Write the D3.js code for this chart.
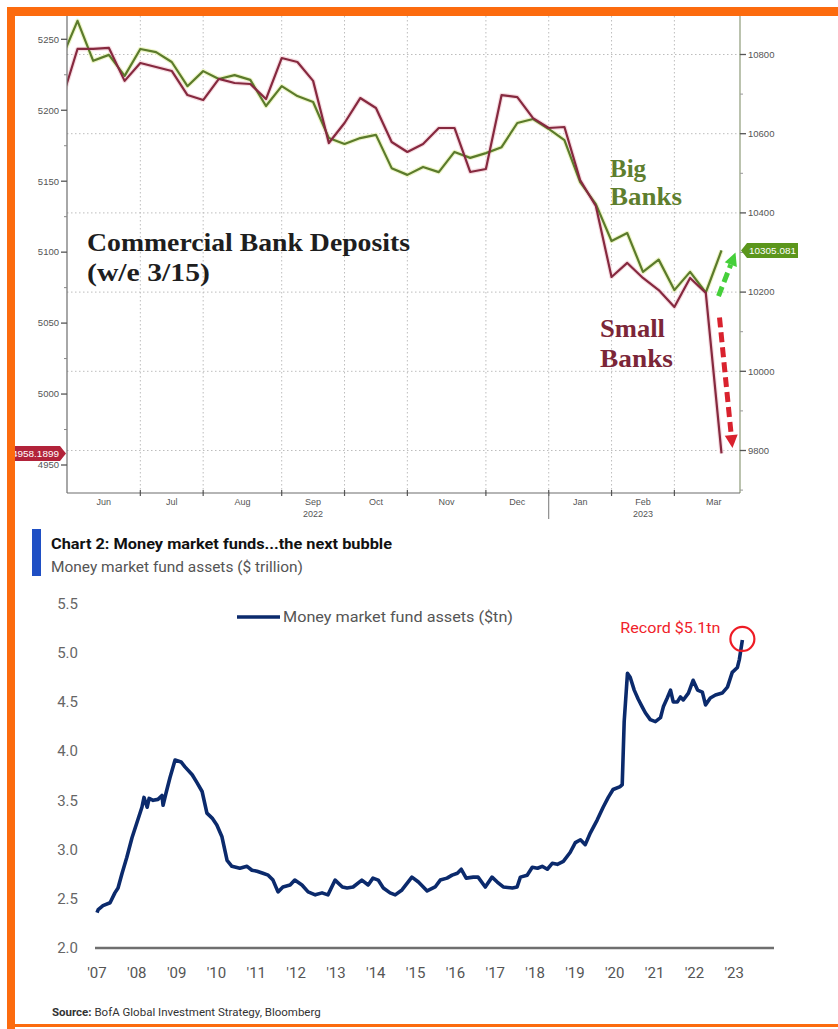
<!DOCTYPE html>
<html>
<head>
<meta charset="utf-8">
<script src="https://cdn.jsdelivr.net/npm/d3@7"></script>
<style>
  body { margin: 0; background: #fff; }
  svg { display: block; }
</style>
</head>
<body>
<svg id="chart" width="838" height="1029"></svg>
<script>
// ---------- Panel 1: weekly commercial bank deposits ($bn), week ending Wednesday ----------
const weekDates = [
  "2022-05-25","2022-06-01","2022-06-08","2022-06-15","2022-06-22","2022-06-29",
  "2022-07-06","2022-07-13","2022-07-20","2022-07-27",
  "2022-08-03","2022-08-10","2022-08-17","2022-08-24","2022-08-31",
  "2022-09-07","2022-09-14","2022-09-21","2022-09-28",
  "2022-10-05","2022-10-12","2022-10-19","2022-10-26",
  "2022-11-02","2022-11-09","2022-11-16","2022-11-23","2022-11-30",
  "2022-12-07","2022-12-14","2022-12-21","2022-12-28",
  "2023-01-04","2023-01-11","2023-01-18","2023-01-25",
  "2023-02-01","2023-02-08","2023-02-15","2023-02-22",
  "2023-03-01","2023-03-08","2023-03-15"
];
// Small banks, left axis
const smallBanks = [
  5207.2, 5243.2, 5243.2, 5243.9, 5220.7, 5233.3, 5230.5, 5227.7, 5210.7, 5207.2,
  5222.1, 5219.2, 5218.5, 5207.9, 5236.8, 5234.0, 5220.7, 5176.9, 5191.0, 5208.6,
  5201.6, 5177.6, 5170.6, 5176.2, 5187.5, 5187.5, 5156.5, 5158.6, 5210.7, 5209.3,
  5194.5, 5187.5, 5188.2, 5150.8, 5132.5, 5082.5, 5092.4, 5081.8, 5073.3, 5061.3,
  5081.8, 5071.3, 4958.1899
];
// Big banks, right axis
const bigBanks = [
  10791, 10885, 10784, 10799, 10746, 10814, 10806, 10781, 10720, 10758,
  10738, 10748, 10736, 10670, 10720, 10695, 10680, 10589, 10574, 10589,
  10597, 10513, 10496, 10516, 10503, 10554, 10539, 10551, 10566, 10627,
  10637, 10612, 10584, 10478, 10422, 10329, 10349, 10251, 10282, 10205,
  10251, 10199, 10305.081
];
const leftTicks = [4950, 5000, 5050, 5100, 5150, 5200, 5250];
const leftMinorTicks = [4975, 5025, 5075, 5125, 5175, 5225];
const rightTicks = [9800, 10000, 10200, 10400, 10600, 10800];
const rightMinorTicks = [9700, 9900, 10100, 10300, 10500, 10700];

// ---------- Panel 2: money market fund assets ($ trillion) ----------
const mmfDates = [
  "2007-01-01","2007-01-12","2007-02-25","2007-05-01","2007-06-14","2007-07-13","2007-08-19",
  "2007-10-01","2007-11-18","2008-01-01","2008-02-17","2008-03-07","2008-04-05","2008-04-23",
  "2008-05-30","2008-07-13","2008-08-19","2008-08-29","2008-09-24","2008-10-31","2008-12-17",
  "2009-02-10","2009-03-18","2009-05-23","2009-07-06","2009-08-22","2009-10-05","2009-11-22",
  "2010-01-04","2010-02-20","2010-04-08","2010-05-22","2010-08-03","2010-10-08","2010-11-22",
  "2011-01-08","2011-03-03","2011-04-20","2011-06-03","2011-07-19","2011-09-02","2011-11-07",
  "2011-12-20","2012-02-24","2012-04-20","2012-06-25","2012-08-26","2012-10-19","2012-12-24",
  "2013-02-28","2013-04-13","2013-06-07","2013-08-26","2013-10-23","2013-12-06","2014-01-23",
  "2014-03-11","2014-05-12","2014-06-28","2014-08-29","2014-11-28","2015-01-27","2015-04-17",
  "2015-06-29","2015-08-15","2015-10-16","2015-12-02","2016-01-19","2016-02-24","2016-04-09",
  "2016-06-13","2016-07-27","2016-10-01","2016-12-02","2017-01-19","2017-03-15","2017-06-07",
  "2017-07-20","2017-08-19","2017-10-20","2017-12-06","2018-01-23","2018-03-07","2018-04-23",
  "2018-06-07","2018-07-24","2018-09-17","2018-11-18","2019-01-05","2019-02-21","2019-04-06",
  "2019-05-23","2019-07-24","2019-09-17","2019-11-03","2019-12-17","2020-02-21","2020-03-10",
  "2020-03-28","2020-04-27","2020-05-22","2020-06-28","2020-08-03","2020-09-09","2020-10-08",
  "2020-11-22","2021-01-08","2021-02-24","2021-03-22","2021-04-27","2021-05-27","2021-06-21",
  "2021-07-28","2021-08-26","2021-09-21","2021-11-07","2021-12-20","2022-01-30","2022-03-15",
  "2022-04-13","2022-05-27","2022-07-13","2022-09-13","2022-10-31","2022-12-14","2023-01-30",
  "2023-02-17","2023-03-17"
];
const mmfAssets = [
  2.36, 2.39, 2.43, 2.46, 2.56, 2.61, 2.76,
  2.92, 3.12, 3.27, 3.43, 3.53, 3.43, 3.52,
  3.50, 3.51, 3.55, 3.45, 3.57, 3.73, 3.91,
  3.89, 3.84, 3.76, 3.68, 3.59, 3.37, 3.32,
  3.25, 3.13, 2.89, 2.83, 2.81, 2.83, 2.79,
  2.78, 2.76, 2.74, 2.69, 2.57, 2.62, 2.64,
  2.69, 2.64, 2.57, 2.54, 2.56, 2.54, 2.69,
  2.62, 2.61, 2.62, 2.69, 2.64, 2.71, 2.69,
  2.61, 2.56, 2.54, 2.59, 2.72, 2.67, 2.58,
  2.62, 2.69, 2.71, 2.74, 2.76, 2.80, 2.71,
  2.72, 2.72, 2.62, 2.72, 2.67, 2.62, 2.61,
  2.62, 2.72, 2.74, 2.82, 2.81, 2.83, 2.80,
  2.86, 2.85, 2.88, 2.97, 3.07, 3.10, 3.05,
  3.17, 3.30, 3.43, 3.53, 3.61, 3.64, 3.66,
  4.30, 4.79, 4.75, 4.62, 4.53, 4.45, 4.39,
  4.32, 4.30, 4.34, 4.45, 4.54, 4.62, 4.50,
  4.50, 4.55, 4.52, 4.59, 4.72, 4.62, 4.60,
  4.47, 4.54, 4.57, 4.59, 4.65, 4.80, 4.85,
  4.93, 5.13
];
const mmfTicks = [2.0, 2.5, 3.0, 3.5, 4.0, 4.5, 5.0, 5.5];
const mmfYears = d3.range(2007, 2024);

// ---------- shared ----------
const svg = d3.select("#chart");
const ORANGE = "#fc6b0e";
const parse = d3.timeParse("%Y-%m-%d");

// =================== Panel 1 ===================
const p1 = { left: 67, right: 740, top: 16, bottom: 493 };
const x1 = d3.scalePoint().domain(weekDates).range([61.8, 721.5]);
const yL = d3.scaleLinear().domain([4950, 5250]).range([465, 39.3]);
const yR = d3.scaleLinear().domain([9800, 10800]).range([450.5, 54.5]);
const weeks = weekDates.map(parse);
const step = x1.step();

const g1 = svg.append("g");
g1.append("defs").append("clipPath").attr("id", "plot1")
  .append("rect").attr("x", p1.left).attr("y", p1.top)
  .attr("width", p1.right - p1.left).attr("height", p1.bottom - p1.top);

// Months covered by the weekly series; gridlines sit on the closing week of the prior month
const months = d3.timeMonth.range(d3.timeMonth.floor(weeks[1]),
  d3.timeMonth.offset(d3.timeMonth.floor(weeks[weeks.length - 1]), 1));
const bounds = months.map(m => {
  const i = weeks.findIndex(w => w >= m);
  return x1(weekDates[i]) - step;
});
const monthEnds = months.map((m, i) => i < months.length - 1 ? bounds[i + 1]
  : bounds[i] + d3.timeWednesday.range(m, d3.timeMonth.offset(m, 1)).length * step);
const monthCenters = months.map((m, i) => (Math.max(bounds[i], p1.left) + monthEnds[i]) / 2);

// gridlines
const grid = g1.append("g").attr("stroke", "#bdbdbd").attr("stroke-width", 1)
  .attr("stroke-dasharray", "1.5,2.5");
grid.selectAll("line.h").data(rightTicks).join("line")
  .attr("x1", p1.left).attr("x2", p1.right)
  .attr("y1", d => yR(d)).attr("y2", d => yR(d));
grid.selectAll("line.v").data(bounds.filter(b => b > p1.left)).join("line")
  .attr("x1", d => d).attr("x2", d => d)
  .attr("y1", p1.top).attr("y2", p1.bottom);

// series
const lineSmall = d3.line().x((d, i) => x1(weekDates[i])).y(d => yL(d));
const lineBig = d3.line().x((d, i) => x1(weekDates[i])).y(d => yR(d));
const series = g1.append("g").attr("clip-path", "url(#plot1)")
  .attr("fill", "none").attr("stroke-linejoin", "round");
series.append("path").datum(bigBanks).attr("d", lineBig)
  .attr("stroke", "#eef5c8").attr("stroke-width", 4.5);
series.append("path").datum(smallBanks).attr("d", lineSmall)
  .attr("stroke", "#f6dde2").attr("stroke-width", 4.5);
series.append("path").datum(bigBanks).attr("d", lineBig)
  .attr("stroke", "#5b7b2b").attr("stroke-width", 2.2);
series.append("path").datum(smallBanks).attr("d", lineSmall)
  .attr("stroke", "#86293f").attr("stroke-width", 2.2);

// axes frame
g1.append("line").attr("x1", p1.left).attr("x2", p1.left)
  .attr("y1", p1.top).attr("y2", p1.bottom).attr("stroke", "#6d6d6d").attr("stroke-width", 1.2);
g1.append("line").attr("x1", p1.right).attr("x2", p1.right)
  .attr("y1", p1.top).attr("y2", p1.bottom).attr("stroke", "#8d9a78").attr("stroke-width", 1.2);
g1.append("line").attr("x1", p1.left).attr("x2", p1.right)
  .attr("y1", p1.bottom).attr("y2", p1.bottom).attr("stroke", "#6d6d6d").attr("stroke-width", 1.2);

const axisFont = "'Liberation Sans', Arial, sans-serif";
// left axis
g1.selectAll("line.lt").data(leftTicks).join("line")
  .attr("x1", p1.left - 6).attr("x2", p1.left).attr("y1", d => yL(d)).attr("y2", d => yL(d))
  .attr("stroke", "#555").attr("stroke-width", 1.3);
g1.selectAll("line.lm").data(leftMinorTicks).join("line")
  .attr("x1", p1.left - 3).attr("x2", p1.left).attr("y1", d => yL(d)).attr("y2", d => yL(d))
  .attr("stroke", "#888");
g1.selectAll("text.lt").data(leftTicks).join("text")
  .attr("x", p1.left - 8).attr("y", d => yL(d)).attr("dy", "0.35em")
  .attr("text-anchor", "end").attr("font-family", axisFont).attr("font-size", 9.5)
  .attr("fill", "#555").text(d => d);
// right axis
g1.selectAll("line.rt").data(rightTicks).join("line")
  .attr("x1", p1.right).attr("x2", p1.right + 6).attr("y1", d => yR(d)).attr("y2", d => yR(d))
  .attr("stroke", "#555").attr("stroke-width", 1.3);
g1.selectAll("line.rm").data(rightMinorTicks.filter(d => yR(d) < p1.bottom)).join("line")
  .attr("x1", p1.right).attr("x2", p1.right + 3).attr("y1", d => yR(d)).attr("y2", d => yR(d))
  .attr("stroke", "#999");
g1.selectAll("text.rt").data(rightTicks).join("text")
  .attr("x", p1.right + 8).attr("y", d => yR(d)).attr("dy", "0.35em")
  .attr("font-family", axisFont).attr("font-size", 9.5).attr("fill", "#555").text(d => d);

// bottom axis: month ticks, labels and years
g1.selectAll("line.mt").data(bounds.filter(b => b > p1.left)).join("line")
  .attr("x1", d => d).attr("x2", d => d).attr("y1", p1.bottom - 3).attr("y2", p1.bottom + 3)
  .attr("stroke", "#555").attr("stroke-width", 1.2);
const fmtMonth = d3.timeFormat("%b");
g1.selectAll("text.mo").data(months).join("text")
  .attr("x", (d, i) => monthCenters[i]).attr("y", p1.bottom + 12)
  .attr("text-anchor", "middle").attr("font-family", axisFont).attr("font-size", 9)
  .attr("fill", "#555").text(d => fmtMonth(d));
const byYear = d3.groups(months.map((m, i) => ({ m, c: monthCenters[i] })), d => d.m.getFullYear());
g1.selectAll("text.yr").data(byYear).join("text")
  .attr("x", d => d[1][Math.floor((d[1].length - 1) / 2)].c).attr("y", p1.bottom + 24)
  .attr("text-anchor", "middle").attr("font-family", axisFont).attr("font-size", 9)
  .attr("fill", "#555").text(d => d[0]);
const janIdx = months.findIndex(m => m.getMonth() === 0);
g1.append("line").attr("x1", bounds[janIdx]).attr("x2", bounds[janIdx])
  .attr("y1", p1.bottom).attr("y2", p1.bottom + 26).attr("stroke", "#777").attr("stroke-width", 1);

// annotations
const serif = "'Liberation Serif', 'Times New Roman', serif";
g1.append("text").attr("x", 87).attr("y", 251).attr("font-family", serif)
  .attr("font-weight", "bold").attr("font-size", 25).attr("fill", "#1e1e1e")
  .attr("textLength", 323).attr("lengthAdjust", "spacingAndGlyphs")
  .text("Commercial Bank Deposits");
g1.append("text").attr("x", 87).attr("y", 281).attr("font-family", serif)
  .attr("font-weight", "bold").attr("font-size", 25).attr("fill", "#1e1e1e")
  .attr("textLength", 123).attr("lengthAdjust", "spacingAndGlyphs")
  .text("(w/e 3/15)");

const bigLbl = g1.append("text").attr("font-family", serif).attr("font-weight", "bold")
  .attr("font-size", 25).attr("fill", "#5e7e2e");
bigLbl.append("tspan").attr("x", 610).attr("y", 177).text("Big");
bigLbl.append("tspan").attr("x", 610).attr("y", 205)
  .attr("textLength", 72).attr("lengthAdjust", "spacingAndGlyphs").text("Banks");
const smallLbl = g1.append("text").attr("font-family", serif).attr("font-weight", "bold")
  .attr("font-size", 25).attr("fill", "#7b2638");
smallLbl.append("tspan").attr("x", 600).attr("y", 337)
  .attr("textLength", 65).attr("lengthAdjust", "spacingAndGlyphs").text("Small");
smallLbl.append("tspan").attr("x", 600).attr("y", 367)
  .attr("textLength", 73).attr("lengthAdjust", "spacingAndGlyphs").text("Banks");

// dashed trend arrows
function dashedArrow(x0, y0, x1p, y1p, color) {
  const ang = Math.atan2(y1p - y0, x1p - x0);
  const head = 13, half = 6.5;
  const bx = x1p - head * Math.cos(ang), by = y1p - head * Math.sin(ang);
  g1.append("line").attr("x1", x0).attr("y1", y0).attr("x2", bx).attr("y2", by)
    .attr("stroke", color).attr("stroke-width", 5).attr("stroke-dasharray", "10,5");
  const px = -Math.sin(ang), py = Math.cos(ang);
  g1.append("path").attr("fill", color)
    .attr("d", `M${x1p},${y1p}L${bx + px * half},${by + py * half}L${bx - px * half},${by - py * half}Z`);
}
const xLast = x1(weekDates[weekDates.length - 1]);
dashedArrow(xLast - 3, yR(10190), xLast + 14, yR(10300), "#45cf3a");
dashedArrow(xLast - 2, yL(5054), xLast + 11, yL(4962), "#d9222e");

// last-value tags
const lastBig = bigBanks[bigBanks.length - 1];
const lastSmall = smallBanks[smallBanks.length - 1];
const tagR = g1.append("g").attr("transform", `translate(${p1.right + 1},${yR(lastBig)})`);
tagR.append("path").attr("fill", "#5b961c")
  .attr("d", "M0,0L6,-7.5H57V7.5H6Z");
tagR.append("text").attr("x", 8).attr("dy", "0.35em").attr("font-family", axisFont)
  .attr("font-size", 9.5).attr("fill", "#fff").attr("textLength", 47)
  .attr("lengthAdjust", "spacingAndGlyphs").text(d3.format(".3f")(lastBig));
const tagL = g1.append("g").attr("transform", `translate(${p1.left - 1},${yL(lastSmall)})`);
tagL.append("path").attr("fill", "#b2233a")
  .attr("d", "M0,0L-6,-7.5H-54V7.5H-6Z");
tagL.append("text").attr("x", -7).attr("dy", "0.35em").attr("text-anchor", "end")
  .attr("font-family", axisFont).attr("font-size", 9.5).attr("fill", "#fff")
  .attr("textLength", 47).attr("lengthAdjust", "spacingAndGlyphs")
  .text(d3.format(".4f")(lastSmall));

// =================== Panel 2 ===================
const sans = "Roboto, 'Noto Sans', sans-serif";
const g2 = svg.append("g");
const mDates = mmfDates.map(parse);
const x2 = d3.scaleTime().domain([new Date(2007, 0, 1), new Date(2024, 0, 1)]).range([97, 774]);
const y2 = d3.scaleLinear().domain([2.0, 5.5]).range([948, 603.5]);

g2.append("rect").attr("x", 32).attr("y", 529).attr("width", 9).attr("height", 47).attr("fill", "#1f4fc4");
g2.append("text").attr("x", 51).attr("y", 549).attr("font-family", sans).attr("font-weight", "bold")
  .attr("font-size", 15).attr("fill", "#111").attr("textLength", 341)
  .attr("lengthAdjust", "spacingAndGlyphs").text("Chart 2: Money market funds...the next bubble");
g2.append("text").attr("x", 51).attr("y", 572).attr("font-family", sans)
  .attr("font-size", 15).attr("fill", "#555").attr("textLength", 252)
  .attr("lengthAdjust", "spacingAndGlyphs").text("Money market fund assets ($ trillion)");

// y labels
g2.selectAll("text.yt").data(mmfTicks).join("text")
  .attr("x", 78).attr("y", d => y2(d)).attr("dy", "0.35em").attr("text-anchor", "end")
  .attr("font-family", sans).attr("font-size", 15).attr("fill", "#666")
  .text(d => d3.format(".1f")(d));
// baseline
g2.append("line").attr("x1", 95).attr("x2", 774).attr("y1", y2(2.0)).attr("y2", y2(2.0))
  .attr("stroke", "#6f6f6f").attr("stroke-width", 2.5);
// x labels
g2.selectAll("text.xt").data(mmfYears).join("text")
  .attr("x", d => x2(new Date(d, 0, 1))).attr("y", 978).attr("text-anchor", "middle")
  .attr("font-family", sans).attr("font-size", 15).attr("fill", "#555")
  .text(d => "'" + String(d).slice(2));

// series
const line2 = d3.line().x((d, i) => x2(mDates[i])).y(d => y2(d));
g2.append("path").datum(mmfAssets).attr("d", line2).attr("fill", "none")
  .attr("stroke", "#0b2a6c").attr("stroke-width", 3.6).attr("stroke-linejoin", "round");

// legend
g2.append("line").attr("x1", 237).attr("x2", 280).attr("y1", 617).attr("y2", 617)
  .attr("stroke", "#0b2a6c").attr("stroke-width", 3.5);
g2.append("text").attr("x", 283).attr("y", 617).attr("dy", "0.35em").attr("font-family", sans)
  .attr("font-size", 15).attr("fill", "#555").attr("textLength", 230)
  .attr("lengthAdjust", "spacingAndGlyphs").text("Money market fund assets ($tn)");

// record annotation
const lastM = mmfAssets[mmfAssets.length - 1];
const lastD = mDates[mDates.length - 1];
g2.append("circle").attr("cx", x2(lastD)).attr("cy", y2(lastM) - 1).attr("r", 12)
  .attr("fill", "none").attr("stroke", "#ee1c25").attr("stroke-width", 2.2);
g2.append("text").attr("x", x2(lastD) - 22).attr("y", y2(lastM) - 7).attr("text-anchor", "end")
  .attr("font-family", sans).attr("font-size", 15).attr("fill", "#f0222a")
  .attr("textLength", 100).attr("lengthAdjust", "spacingAndGlyphs")
  .text(`Record $${d3.format(".1f")(lastM)}tn`);

// source
const src = g2.append("text").attr("x", 52).attr("y", 1016).attr("font-family", sans)
  .attr("font-size", 11.5).attr("fill", "#333");
src.append("tspan").attr("font-weight", "bold").text("Source:");
src.append("tspan").text(" BofA Global Investment Strategy, Bloomberg");

// =================== frame ===================
svg.append("rect").attr("x", 7).attr("y", 7).attr("width", 831).attr("height", 9).attr("fill", ORANGE);
svg.append("rect").attr("x", 7).attr("y", 7).attr("width", 8).attr("height", 1022).attr("fill", ORANGE);
svg.append("rect").attr("x", 7).attr("y", 1024).attr("width", 831).attr("height", 3).attr("fill", ORANGE);
</script>
</body>
</html>
